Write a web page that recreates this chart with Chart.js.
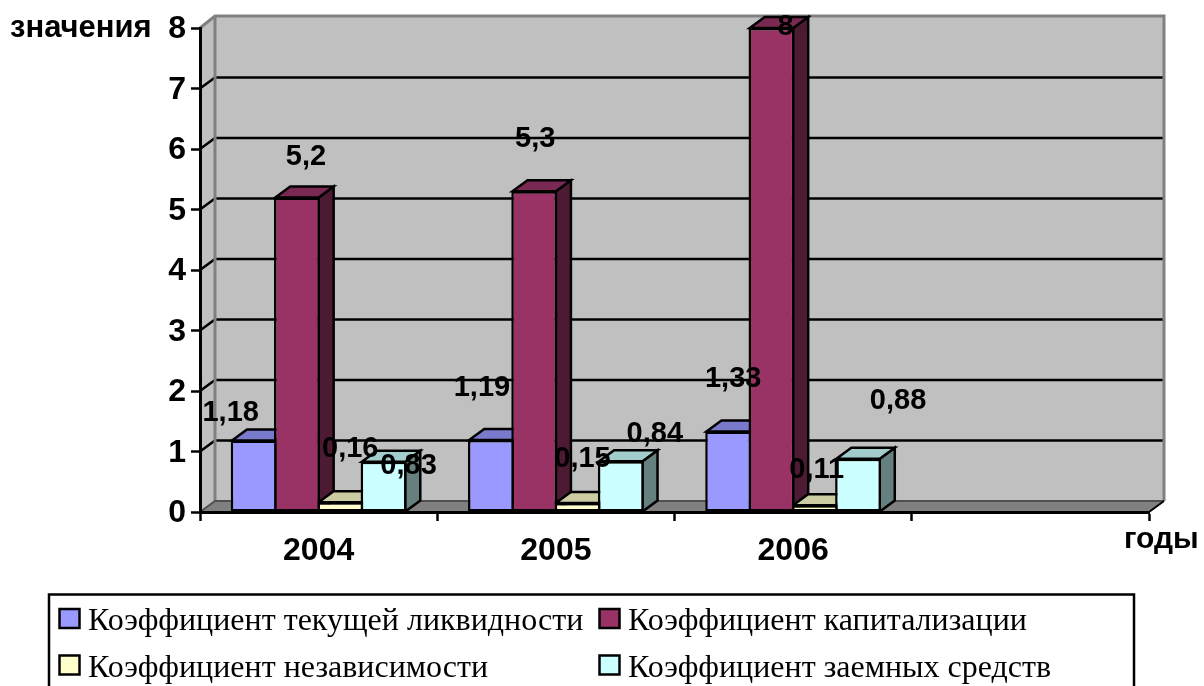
<!DOCTYPE html>
<html lang="ru">
<head>
<meta charset="utf-8">
<title>Коэффициенты</title>
<style>
html,body{margin:0;padding:0;background:#fff;}
canvas{display:block;}
</style>
<script src="https://cdn.jsdelivr.net/npm/chart.js@4/dist/chart.umd.min.js"></script>
</head>
<body>
<canvas id="c" width="1204" height="686"></canvas>
<script>
// Categories: the trailing empty slot leaves room on the right of the axis.
const years = ['2004', '2005', '2006', ''];
const yTicks = [0, 1, 2, 3, 4, 5, 6, 7, 8];

const currentLiquidity = [1.18, 1.19, 1.33];
const capitalization = [5.2, 5.3, 8];
const independence = [0.16, 0.15, 0.11];
const borrowedFunds = [0.83, 0.84, 0.88];

const seriesNames = [
  'Коэффициент текущей ликвидности',
  'Коэффициент капитализации',
  'Коэффициент независимости',
  'Коэффициент заемных средств'
];

// Front, top and side face colours of each series.
const faceColors = [
  ['#9999ff', '#7a7acc', '#4d4d80'],
  ['#993366', '#7a2952', '#4d1a33'],
  ['#ffffcc', '#cccca3', '#808066'],
  ['#ccffff', '#a3cccc', '#668080']
];

// Value label displacement from the top centre of each bar, in pixels.
const labelShift = [
  [[-23, -28], [-9, -52], [5, -53]],
  [[9, -40], [1, -52], [14, -1]],
  [[10, -53], [5, -44], [2, -35]],
  [[25, 4], [34, -27], [40, -58]]
];

const DEPTH_X = 15, DEPTH_Y = 11;
const BOLD = '"Liberation Sans", Arial, sans-serif';
const SERIF = '"Liberation Serif", "Times New Roman", serif';
const LINE = 2.5;

function poly(ctx, pts, fill, stroke, width) {
  ctx.beginPath();
  pts.forEach((p, i) => i ? ctx.lineTo(p[0], p[1]) : ctx.moveTo(p[0], p[1]));
  ctx.closePath();
  if (fill) { ctx.fillStyle = fill; ctx.fill(); }
  if (stroke) { ctx.strokeStyle = stroke; ctx.lineWidth = width; ctx.stroke(); }
}

// Walls, floor and gridlines of the box behind the bars.
const boxPlugin = {
  id: 'box',
  beforeDraw(chart) {
    const { ctx, chartArea: a, scales: { y } } = chart;
    const l = a.left, r = a.right, t = a.top, b = a.bottom;
    const dx = DEPTH_X, dy = DEPTH_Y;
    const wallTop = t - dy - 1;
    ctx.save();
    poly(ctx, [[l + dx, wallTop], [r + dx, wallTop], [r + dx, b - dy], [l + dx, b - dy]], '#c0c0c0');
    poly(ctx, [[l, t], [l + dx, wallTop], [l + dx, b - dy], [l, b]], '#c0c0c0');
    poly(ctx, [[l, b], [l + dx, b - dy], [r + dx, b - dy], [r, b]], '#808080');

    ctx.lineCap = 'butt';
    ctx.strokeStyle = '#000';
    ctx.lineWidth = LINE;
    yTicks.forEach(v => {
      if (v === 0 || v === yTicks[yTicks.length - 1]) return;
      const py = y.getPixelForValue(v);
      ctx.beginPath();
      ctx.moveTo(l, py);
      ctx.lineTo(l + dx, py - dy);
      ctx.lineTo(r + dx, py - dy);
      ctx.stroke();
    });

    ctx.strokeStyle = '#808080';
    ctx.lineWidth = 3;
    ctx.beginPath();
    ctx.moveTo(l, t);
    ctx.lineTo(l + dx, wallTop);
    ctx.lineTo(r + dx, wallTop);
    ctx.lineTo(r + dx, b - dy);
    ctx.moveTo(l + dx, wallTop);
    ctx.lineTo(l + dx, b - dy);
    ctx.stroke();

    ctx.strokeStyle = '#505050';
    ctx.lineWidth = 2;
    ctx.beginPath();
    ctx.moveTo(l, b);
    ctx.lineTo(l + dx, b - dy);
    ctx.lineTo(r + dx, b - dy);
    ctx.stroke();
    ctx.strokeStyle = '#000';
    ctx.beginPath();
    ctx.moveTo(r, b);
    ctx.lineTo(r + dx, b - dy);
    ctx.stroke();
    ctx.restore();
  }
};

// Extrudes the bars: top and side faces are laid left to right, under all front faces.
const extrudePlugin = {
  id: 'extrude',
  beforeDatasetsDraw(chart) {
    const { ctx } = chart;
    const dx = DEPTH_X, dy = DEPTH_Y;
    years.forEach((_, j) => {
      chart.data.datasets.forEach((ds, i) => {
        const bar = chart.getDatasetMeta(i).data[j];
        if (!bar) return;
        const { x, y, base, width } = bar.getProps(['x', 'y', 'base', 'width'], true);
        const x0 = x - width / 2 + LINE / 2, x1 = x + width / 2 - LINE / 2;
        const colors = faceColors[i];
        ctx.save();
        ctx.lineJoin = 'miter';
        poly(ctx, [[x1, y], [x1 + dx, y - dy], [x1 + dx, base - dy], [x1, base]], colors[2], '#000', LINE);
        poly(ctx, [[x0, y], [x0 + dx, y - dy], [x1 + dx, y - dy], [x1, y]], colors[1], '#000', LINE);
        ctx.restore();
      });
    });
  }
};

// Value labels, axis captions and the boxed two-column legend.
const annotationPlugin = {
  id: 'annotation',
  afterDraw(chart) {
    const { ctx } = chart;
    ctx.save();
    ctx.fillStyle = '#000';
    ctx.textAlign = 'center';
    ctx.textBaseline = 'middle';
    ctx.font = 'bold 29px ' + BOLD;
    chart.data.datasets.forEach((ds, i) => {
      chart.getDatasetMeta(i).data.forEach((bar, j) => {
        const { x, y } = bar.getProps(['x', 'y'], true);
        const shift = labelShift[i][j];
        ctx.fillText(String(ds.data[j]).replace('.', ','), x + shift[0], y + shift[1]);
      });
    });

    ctx.textAlign = 'left';
    ctx.font = 'bold 31px ' + BOLD;
    ctx.fillText('значения', 10, 28);
    ctx.font = 'bold 30px ' + BOLD;
    ctx.fillText('годы', 1124, 540);

    ctx.strokeStyle = '#000';
    ctx.lineWidth = 2.5;
    ctx.strokeRect(49, 594.5, 1085, 120);

    const cols = [59.5, 599.5], rows = [609, 655.5], baselines = [630, 676.5];
    ctx.font = '32px ' + SERIF;
    ctx.textBaseline = 'alphabetic';
    chart.data.datasets.forEach((ds, i) => {
      const cx = cols[i % 2], row = Math.floor(i / 2);
      ctx.fillStyle = faceColors[i][0];
      ctx.fillRect(cx, rows[row], 20, 19);
      ctx.strokeStyle = '#000';
      ctx.lineWidth = 2.5;
      ctx.strokeRect(cx, rows[row], 20, 19);
      ctx.fillStyle = '#000';
      ctx.fillText(ds.label, cx + 28.5, baselines[row]);
    });
    ctx.restore();
  }
};

const seriesValues = [currentLiquidity, capitalization, independence, borrowedFunds];

new Chart(document.getElementById('c'), {
  type: 'bar',
  data: {
    labels: years,
    datasets: seriesValues.map((values, i) => ({
      label: seriesNames[i],
      data: values,
      backgroundColor: faceColors[i][0],
      borderColor: '#000',
      borderWidth: LINE,
      borderSkipped: false,
      barPercentage: 1.06,
      categoryPercentage: 0.73
    }))
  },
  options: {
    responsive: false,
    animation: false,
    events: [],
    layout: { padding: { top: 28, right: 55, left: 0, bottom: 0 } },
    plugins: { legend: { display: false }, tooltip: { enabled: false }, title: { display: false } },
    scales: {
      x: {
        afterFit(scale) { scale.height = 174; },
        border: { color: '#000', width: 3 },
        grid: { drawOnChartArea: false, drawTicks: true, tickLength: 9, tickWidth: 2.5, tickColor: '#000', offset: true },
        ticks: { color: '#000', padding: 11, maxRotation: 0, font: { family: BOLD, weight: 'bold', size: 32 } }
      },
      y: {
        min: 0,
        max: 8,
        afterFit(scale) { scale.width = 200; },
        afterBuildTicks(scale) { scale.ticks = yTicks.map(value => ({ value })); },
        border: { color: '#000', width: 3 },
        grid: { drawOnChartArea: false, drawTicks: true, tickLength: 9, tickWidth: 2.5, tickColor: '#000' },
        ticks: { color: '#000', padding: 5, labelOffset: 1.5, font: { family: BOLD, weight: 'bold', size: 32 } }
      }
    }
  },
  plugins: [boxPlugin, extrudePlugin, annotationPlugin]
});
</script>
</body>
</html>
